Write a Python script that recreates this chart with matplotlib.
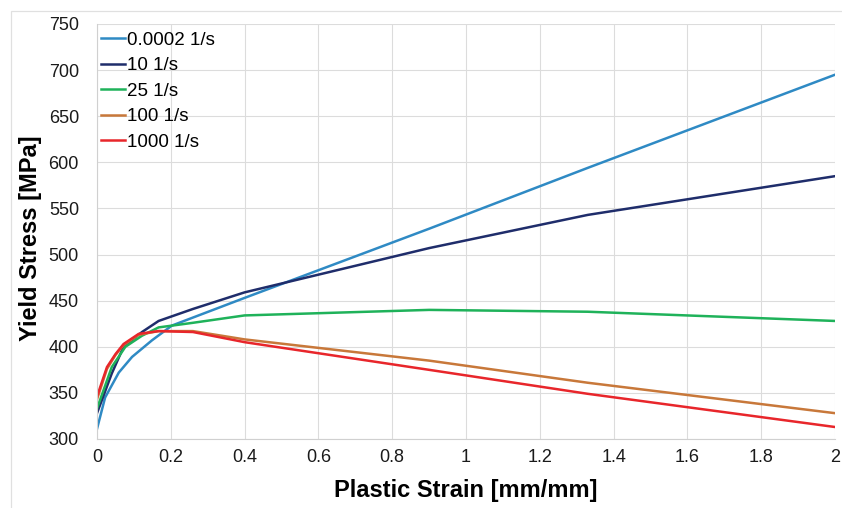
import matplotlib
matplotlib.use("Agg")
import matplotlib.pyplot as plt
from matplotlib.patches import Rectangle

# =========================
# Data
# =========================
strain_0002 = [0.0, 0.022, 0.059, 0.095, 0.149, 0.203, 0.4, 0.9, 1.33, 2.0]
stress_0002 = [311, 345, 372, 389, 407, 423, 453, 528, 594, 695]

strain_10 = [0.0, 0.04, 0.072, 0.122, 0.167, 0.26, 0.4, 0.9, 1.33, 2.0]
stress_10 = [328, 371, 400, 416, 428, 441, 459, 507, 543, 585]

strain_25 = [0.0, 0.04, 0.077, 0.122, 0.167, 0.26, 0.4, 0.9, 1.33, 2.0]
stress_25 = [333, 378, 400, 412, 421, 426, 434, 440, 438, 428]

strain_100 = [0.0, 0.027, 0.05, 0.072, 0.113, 0.167, 0.26, 0.4, 0.9, 1.33, 2.0]
stress_100 = [343, 376, 391, 402, 413, 417, 417, 408, 385, 361, 328]

strain_1000 = [0.0, 0.027, 0.05, 0.072, 0.113, 0.167, 0.26, 0.4, 0.9, 1.33, 2.0]
stress_1000 = [346, 378, 392, 403, 414, 417, 416, 405, 375, 349, 313]

series = [
    ("0.0002 1/s", strain_0002, stress_0002, "#2F8AC4"),
    ("10 1/s", strain_10, stress_10, "#1F2D6B"),
    ("25 1/s", strain_25, stress_25, "#1FB25A"),
    ("100 1/s", strain_100, stress_100, "#C8783A"),
    ("1000 1/s", strain_1000, stress_1000, "#E8262B"),
]

x_ticks = [0, 0.2, 0.4, 0.6, 0.8, 1, 1.2, 1.4, 1.6, 1.8, 2]
x_tick_labels = ["0", "0.2", "0.4", "0.6", "0.8", "1", "1.2", "1.4", "1.6", "1.8", "2"]
y_ticks = list(range(300, 751, 50))

# =========================
# Style
# =========================
plt.rcParams.update({
    "font.family": ["Liberation Sans", "DejaVu Sans"],
    "font.size": 12,
})

W, H = 842, 508
fig = plt.figure(figsize=(W / 100, H / 100), dpi=100)

# light outer frame (left/top visible)
fig.patches.append(Rectangle((11 / W, -0.05), 1.2, 1 - 11 / H + 0.05,
                             transform=fig.transFigure, fill=False,
                             edgecolor="#E0E0E0", linewidth=0.9))

ax = fig.add_axes([97 / W, 1 - 439 / H, (835 - 97) / W, (439 - 24) / H])

for name, xs, ys, col in series:
    ax.plot(xs, ys, color=col, linewidth=1.8, label=name)

ax.set_xlim(0, 2)
ax.set_ylim(300, 750)
ax.set_xticks(x_ticks)
ax.set_xticklabels(x_tick_labels)
ax.set_yticks(y_ticks)
ax.tick_params(length=0, labelsize=13, colors="#1A1A1A")
ax.tick_params(axis="y", pad=13)
ax.tick_params(axis="x", pad=7)
ax.grid(True, color="#DCDCDC", linewidth=0.8)
ax.set_axisbelow(True)
for side in ("top", "right"):
    ax.spines[side].set_visible(False)
for side in ("left", "bottom"):
    ax.spines[side].set_color("#D0D0D0")

ax.set_xlabel("Plastic Strain [mm/mm]", fontsize=17, fontweight="bold")
ax.set_ylabel("Yield Stress [MPa]", fontsize=17, fontweight="bold")
ax.xaxis.set_label_coords(0.5, -(490 - 439) / 415, transform=ax.transAxes)
ax.xaxis.label.set_va("center")
ax.yaxis.set_label_coords(-(97 - 31) / 738, (439 - 238) / 415, transform=ax.transAxes)
ax.yaxis.label.set_va("center")

ax.legend(loc="upper left", bbox_to_anchor=(0.0, 0.99), frameon=False,
          fontsize=13.5, handlelength=1.3, handletextpad=0.1, labelspacing=0.44,
          borderaxespad=0.0, borderpad=0.2)

fig.savefig("out.png", dpi=100)
